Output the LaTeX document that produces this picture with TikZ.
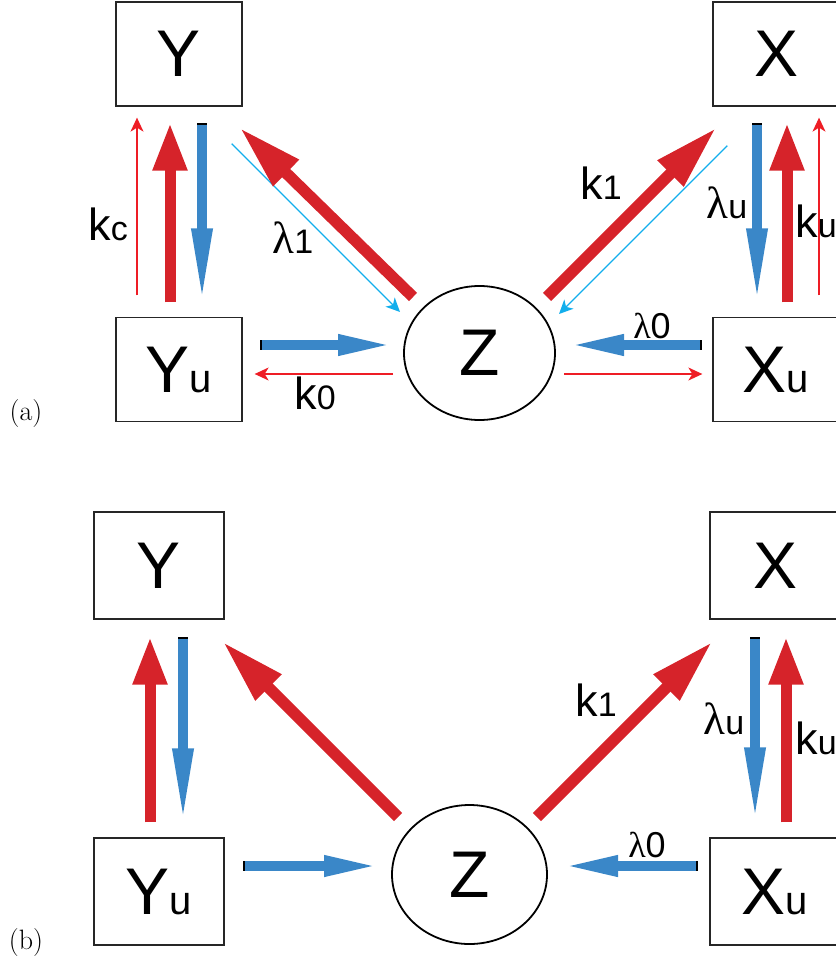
\documentclass[tikz,border=0pt]{standalone}
\usepackage{fontspec}
\newfontfamily\diagfont{Liberation Sans}
\newfontfamily\greekfont{Liberation Serif}
\usetikzlibrary{
    arrows.meta,
    shapes.geometric
}

\definecolor{fluxred}{HTML}{D6232A}
\definecolor{decayblue}{HTML}{3A87C8}
\definecolor{leakred}{HTML}{EE1D25}
\definecolor{leakcyan}{HTML}{12AEEC}

\newcommand{\sm}[1]{{\fontsize{34}{34}\selectfont #1}}
\newcommand{\smbox}[1]{{\fontsize{40}{40}\selectfont #1}}
\newcommand{\lam}{{\greekfont λ}}

\begin{document}
\begin{tikzpicture}[
    x=1pt, y=-1pt,
    box/.style={
        draw=black!85,
        line width=1.3pt,
        minimum width=126pt,
        minimum height=104pt,
        inner sep=0pt,
        font=\diagfont\fontsize{66}{66}\selectfont
    },
    boxb/.style={box, minimum width=130pt, minimum height=107pt},
    pool/.style={
        ellipse,
        draw,
        line width=1.8pt,
        inner sep=0pt,
        font=\diagfont\fontsize{66}{66}\selectfont
    },
    rate/.style={font=\diagfont\fontsize{45}{45}\selectfont, inner sep=0pt},
    tag/.style={font=\rmfamily\fontsize{28}{28}\selectfont, inner sep=0pt},
    flux/.style={draw=fluxred, line width=11pt,
        arrows={-Triangle[length=48pt,width=32pt]}},
    fluxd/.style={draw=fluxred, line width=11.5pt,
        arrows={-Triangle[length=65pt,width=34pt]}},
    decay/.style={draw=decayblue, line width=9.5pt,
        arrows={Bar[color=black,width=9.5pt,line width=2pt]-Triangle[length=75pt,width=19pt]}},
    decayh/.style={draw=decayblue, line width=9.5pt,
        arrows={Bar[color=black,width=9.5pt,line width=2pt]-Triangle[length=55pt,width=19pt]}},
    leak/.style={draw=leakred, line width=1.3pt,
        arrows={-Stealth[length=14pt,width=13pt,inset=4pt]}},
    leakc/.style={leak, draw=leakcyan, line width=1.2pt}
]

\useasboundingbox (0,0) rectangle (835,963);

% ============================================================
% (a)
% ============================================================

\node[box] (Ya) at (179,54) {Y};
\node[box] (Yua) at (179,369.5) {Y\smbox{u}};
\node[box] (Xa) at (776,54) {X};
\node[box] (Xua) at (776,369.5) {X\smbox{u}};
\node[pool, minimum width=151pt, minimum height=134pt] (Za) at (479.5,353) {Z};

\draw[leak] ([shift={(-42,-21.5)}]Yua.north) -- ([shift={(-42,11)}]Ya.south);
\draw[flux] ([shift={(-9,-14.5)}]Yua.north) -- ([shift={(-9,16)}]Ya.south);
\draw[decay] ([shift={(23,16)}]Ya.south) -- ([shift={(23,-13.5)}]Yua.north);
\draw[leakc] ([shift={(-11,37)}]Ya.south east) -- ([shift={(-79.5,-41)}]Za.center);
\draw[fluxd] ([shift={(-66.5,-56)}]Za.center) -- ([shift={(-3,21)}]Ya.south east);
\draw[decayh] ([shift={(17,-24.5)}]Yua.east) -- ([shift={(-86.5,-8)}]Za.center);
\draw[leak] ([shift={(-86.5,21)}]Za.center) -- ([shift={(12,4.5)}]Yua.east);

\draw[fluxd] ([shift={(67.5,-56)}]Za.center) -- ([shift={(4,21)}]Xa.south west);
\draw[leakc] ([shift={(15,39)}]Xa.south west) -- ([shift={(79.5,-39)}]Za.center);
\draw[decay] ([shift={(-19,16)}]Xa.south) -- ([shift={(-19,-13.5)}]Xua.north);
\draw[flux] ([shift={(11,-14.5)}]Xua.north) -- ([shift={(11,16)}]Xa.south);
\draw[leak] ([shift={(43,-21.5)}]Xua.north) -- ([shift={(43,11)}]Xa.south);
\draw[decayh] ([shift={(-10,-24.5)}]Xua.west) -- ([shift={(89.5,-8)}]Za.center);
\draw[leak] ([shift={(84.5,21)}]Za.center) -- ([shift={(-10,4.5)}]Xua.west);

\node[rate] (kca) at (108,224) {k\sm{c}};
\node[rate] (l1a) at (293,238) {\lam\sm{1}};
\node[rate] (k0a) at (315,393) {k\sm{0}};
\node[rate] (k1a) at (601,183) {k\sm{1}};
\node[rate] (lua) at (727,203) {\lam\sm{u}};
\node[rate] (kua) at (816,221) {k\sm{u}};
\node[rate, font=\diagfont\fontsize{36}{36}\selectfont] (l0a) at (652,326) {\lam 0};

\node[tag] (taga) at (26,414) {(a)};

% ============================================================
% (b)
% ============================================================

\node[boxb] (Yb) at (159,565.5) {Y};
\node[boxb] (Yub) at (159,891.5) {Y\smbox{u}};
\node[boxb] (Xb) at (775,565.5) {X};
\node[boxb] (Xub) at (775,891.5) {X\smbox{u}};
\node[pool, minimum width=155pt, minimum height=139pt] (Zb) at (469.5,874.5) {Z};

\draw[flux] ([shift={(-9,-15)}]Yub.north) -- ([shift={(-9,17)}]Yb.south);
\draw[decay] ([shift={(24,17)}]Yb.south) -- ([shift={(24,-14)}]Yub.north);
\draw[fluxd] ([shift={(-71.5,-57.5)}]Zb.center) -- ([shift={(-2,22)}]Yb.south east);
\draw[decayh] ([shift={(18,-25.5)}]Yub.east) -- ([shift={(-90.5,-8.5)}]Zb.center);

\draw[fluxd] ([shift={(67.5,-57.5)}]Zb.center) -- ([shift={(3,22)}]Xb.south west);
\draw[decay] ([shift={(-20,17)}]Xb.south) -- ([shift={(-20,-15)}]Xub.north);
\draw[flux] ([shift={(11,-15)}]Xub.north) -- ([shift={(11,17)}]Xb.south);
\draw[decayh] ([shift={(-11,-25.5)}]Xub.west) -- ([shift={(93.5,-8.5)}]Zb.center);

\node[rate] (k1b) at (596,700) {k\sm{1}};
\node[rate] (lub) at (724,719) {\lam\sm{u}};
\node[rate] (kub) at (816,738) {k\sm{u}};
\node[rate, font=\diagfont\fontsize{36}{36}\selectfont] (l0b) at (647,845) {\lam 0};

\node[tag] (tagb) at (26,943) {(b)};

\end{tikzpicture}
\end{document}
